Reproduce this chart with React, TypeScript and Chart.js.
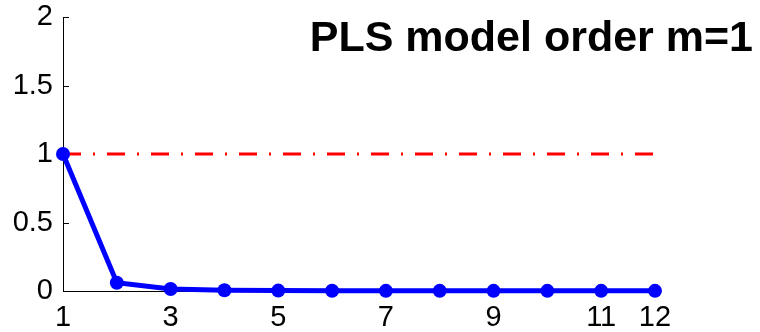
import React, { useEffect, useRef } from "react";
import { Chart, registerables } from "chart.js";

Chart.register(...registerables);

const components = [1, 2, 3, 4, 5, 6, 7, 8, 9, 10, 11, 12];
const ratioValues = [1, 0.06, 0.015, 0.006, 0.003, 0.002, 0.001, 0.001, 0.001, 0.001, 0.001, 0.001];
const thresholdValue = 1;
const xTickValues = [1, 3, 5, 7, 9, 11, 12];
const yTickValues = [0, 0.5, 1, 1.5, 2];
const titleText = "PLS model order m=1";

const FONT = "'Liberation Sans', Arial, Helvetica, sans-serif";

const innerTicksPlugin = {
  id: "innerTicks",
  beforeDatasetsDraw(chart: any) {
    const { ctx, chartArea, scales } = chart;
    ctx.save();
    ctx.strokeStyle = "#000";
    ctx.lineWidth = 1;
    const len = 6;
    yTickValues.forEach((v) => {
      const y = Math.round(scales.y.getPixelForValue(v)) + 0.5;
      ctx.beginPath();
      ctx.moveTo(chartArea.left, y);
      ctx.lineTo(chartArea.left + len, y);
      ctx.stroke();
    });
    xTickValues.forEach((v) => {
      const x = Math.round(scales.x.getPixelForValue(v)) + 0.5;
      ctx.beginPath();
      ctx.moveTo(x, chartArea.bottom);
      ctx.lineTo(x, chartArea.bottom - len);
      ctx.stroke();
    });
    ctx.restore();
  },
};

const titlePlugin = {
  id: "cornerTitle",
  afterDraw(chart: any) {
    const { ctx } = chart;
    ctx.save();
    ctx.font = `bold 43px ${FONT}`;
    ctx.fillStyle = "#000";
    ctx.textAlign = "right";
    ctx.textBaseline = "alphabetic";
    ctx.fillText(titleText, 753, 51);
    ctx.restore();
  },
};

export default function App() {
  const canvasRef = useRef<HTMLCanvasElement | null>(null);

  useEffect(() => {
    if (!canvasRef.current) return;
    const chart = new Chart(canvasRef.current, {
      type: "line",
      data: {
        datasets: [
          {
            label: "ratio",
            data: components.map((c, i) => ({ x: c, y: ratioValues[i] })),
            borderColor: "#0000ff",
            backgroundColor: "#0000ff",
            borderWidth: 5,
            pointRadius: 7,
            pointHoverRadius: 7,
            pointBorderWidth: 0,
            tension: 0,
            clip: false as any,
          },
          {
            label: "threshold",
            data: [
              { x: components[0], y: thresholdValue },
              { x: components[components.length - 1], y: thresholdValue },
            ],
            borderColor: "#ff0000",
            borderWidth: 3,
            borderDash: [18, 12, 2, 12],
            pointRadius: 0,
            tension: 0,
            clip: false as any,
          },
        ],
      },
      options: {
        animation: false,
        responsive: false,
        events: [],
        layout: { padding: { top: 17, right: 105, bottom: 0, left: 0 } },
        plugins: {
          legend: { display: false },
          tooltip: { enabled: false },
          title: { display: false },
        },
        scales: {
          x: {
            type: "linear",
            min: 1,
            max: 12,
            afterBuildTicks: (axis: any) => {
              axis.ticks = xTickValues.map((v) => ({ value: v }));
            },
            afterFit: (axis: any) => {
              axis.height = 41;
              axis.paddingLeft = 0;
              axis.paddingRight = 0;
            },
            grid: { display: true, drawOnChartArea: false, drawTicks: false },
            border: { display: true, color: "#000", width: 1 },
            ticks: {
              color: "#000",
              font: { family: FONT, size: 29 },
              padding: 10,
              maxRotation: 0,
              autoSkip: false,
              callback: (v: any) => String(v),
            },
          },
          y: {
            type: "linear",
            min: 0,
            max: 2,
            afterBuildTicks: (axis: any) => {
              axis.ticks = yTickValues.map((v) => ({ value: v }));
            },
            afterFit: (axis: any) => {
              axis.width = 63;
              axis.paddingTop = 0;
              axis.paddingBottom = 0;
            },
            grid: { display: true, drawOnChartArea: false, drawTicks: false },
            border: { display: true, color: "#000", width: 1 },
            ticks: {
              color: "#000",
              font: { family: FONT, size: 29 },
              padding: 10,
              callback: (v: any) => String(v),
            },
          },
        },
      },
      plugins: [innerTicksPlugin, titlePlugin],
    });
    return () => chart.destroy();
  }, []);

  return (
    <div style={{ position: "absolute", left: 0, top: 0, width: 760, height: 332, background: "#fff" }}>
      <canvas ref={canvasRef} width={760} height={332} style={{ display: "block" }} />
    </div>
  );
}
